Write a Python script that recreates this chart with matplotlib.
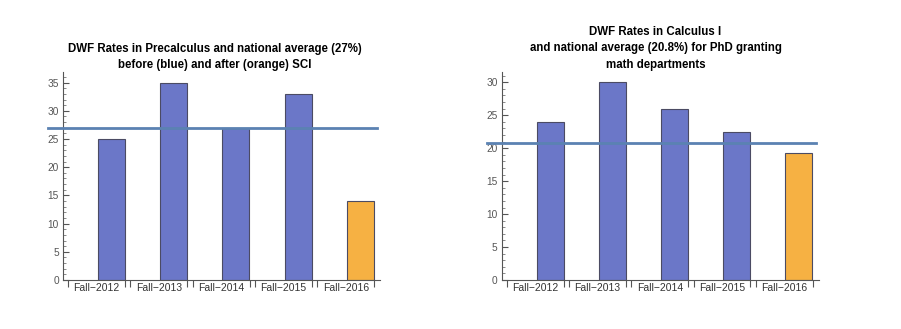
import matplotlib
matplotlib.use("Agg")
import matplotlib.pyplot as plt

categories = ["Fall\u22122012", "Fall\u22122013", "Fall\u22122014", "Fall\u22122015", "Fall\u22122016"]
precalc_values = [25, 35, 27, 33, 14]
precalc_avg = 27
calc_values = [24, 30, 26, 22.4, 19.3]
calc_avg = 20.8
after_sci = [False, False, False, False, True]

title_left = "DWF Rates in Precalculus and national average (27%)\nbefore (blue) and after (orange) SCI"
title_right = "DWF Rates in Calculus I\nand national average (20.8%) for PhD granting\nmath departments"

BLUE = "#6b77c8"
ORANGE = "#f6b143"
LINE = "#5b82b2"
EDGE = "#4b4b63"

plt.rcParams['font.family'] = ['Liberation Sans', 'DejaVu Sans']

fig = plt.figure(figsize=(9.01, 3.29), dpi=100)

def draw(ax, values, avg, ymax, xlim, line_x, yticks):
    n = len(values)
    xs = list(range(n))
    colors = [ORANGE if a else BLUE for a in after_sci]
    ax.bar([x + 0.236 for x in xs], values, width=0.433, color=colors,
           edgecolor=EDGE, linewidth=0.8, zorder=2)
    ax.plot(line_x, [avg, avg], color=LINE, lw=2.0, clip_on=False, zorder=3)
    ax.set_xlim(*xlim)
    ax.set_ylim(0, ymax)
    for s in ["top", "right"]:
        ax.spines[s].set_visible(False)
    for s in ["left", "bottom"]:
        ax.spines[s].set_color("#555555")
        ax.spines[s].set_linewidth(0.8)
    ax.set_yticks(yticks)
    ax.set_yticks([v for v in range(0, int(ymax) + 1)], minor=True)
    ax.tick_params(axis="y", which="major", direction="in", length=4, width=0.8,
                   color="#555555", labelsize=7.3, labelcolor="#555555", pad=3)
    ax.tick_params(axis="y", which="minor", direction="in", length=2, width=0.6,
                   color="#777777")
    edges = []
    for x in xs:
        edges += [x - 0.457, x + 0.457]
    ax.set_xticks(edges)
    ax.set_xticklabels([""] * len(edges))
    ax.set_xticks(xs, minor=True)
    ax.set_xticklabels(categories, minor=True)
    ax.tick_params(axis="x", which="major", direction="out", length=5, width=0.8,
                   color="#555555")
    ax.tick_params(axis="x", which="minor", length=0, labelsize=7.5,
                   labelcolor="#333333", pad=2)

W, H = 901, 329
ax1 = fig.add_axes([63 / W, (H - 280) / H, 317 / W, 208 / H])
draw(ax1, precalc_values, precalc_avg, 208 / 5.64, (-0.538, 4.55), [-0.778, 4.50],
     [0, 5, 10, 15, 20, 25, 30, 35])
ax2 = fig.add_axes([501.7 / W, (H - 280) / H, 317.6 / W, 208.3 / H])
draw(ax2, calc_values, calc_avg, 208.3 / 6.59, (-0.544, 4.566), [-0.785, 4.51],
     [0, 5, 10, 15, 20, 25, 30])

fig.text(215 / W, 1 - 57 / H, title_left, ha="center", va="center",
         fontsize=8.3, fontweight="bold", linespacing=1.45)
fig.text(655.5 / W, 1 - 48.5 / H, title_right, ha="center", va="center",
         fontsize=8.3, fontweight="bold", linespacing=1.45)

fig.savefig("out.png", dpi=100)
